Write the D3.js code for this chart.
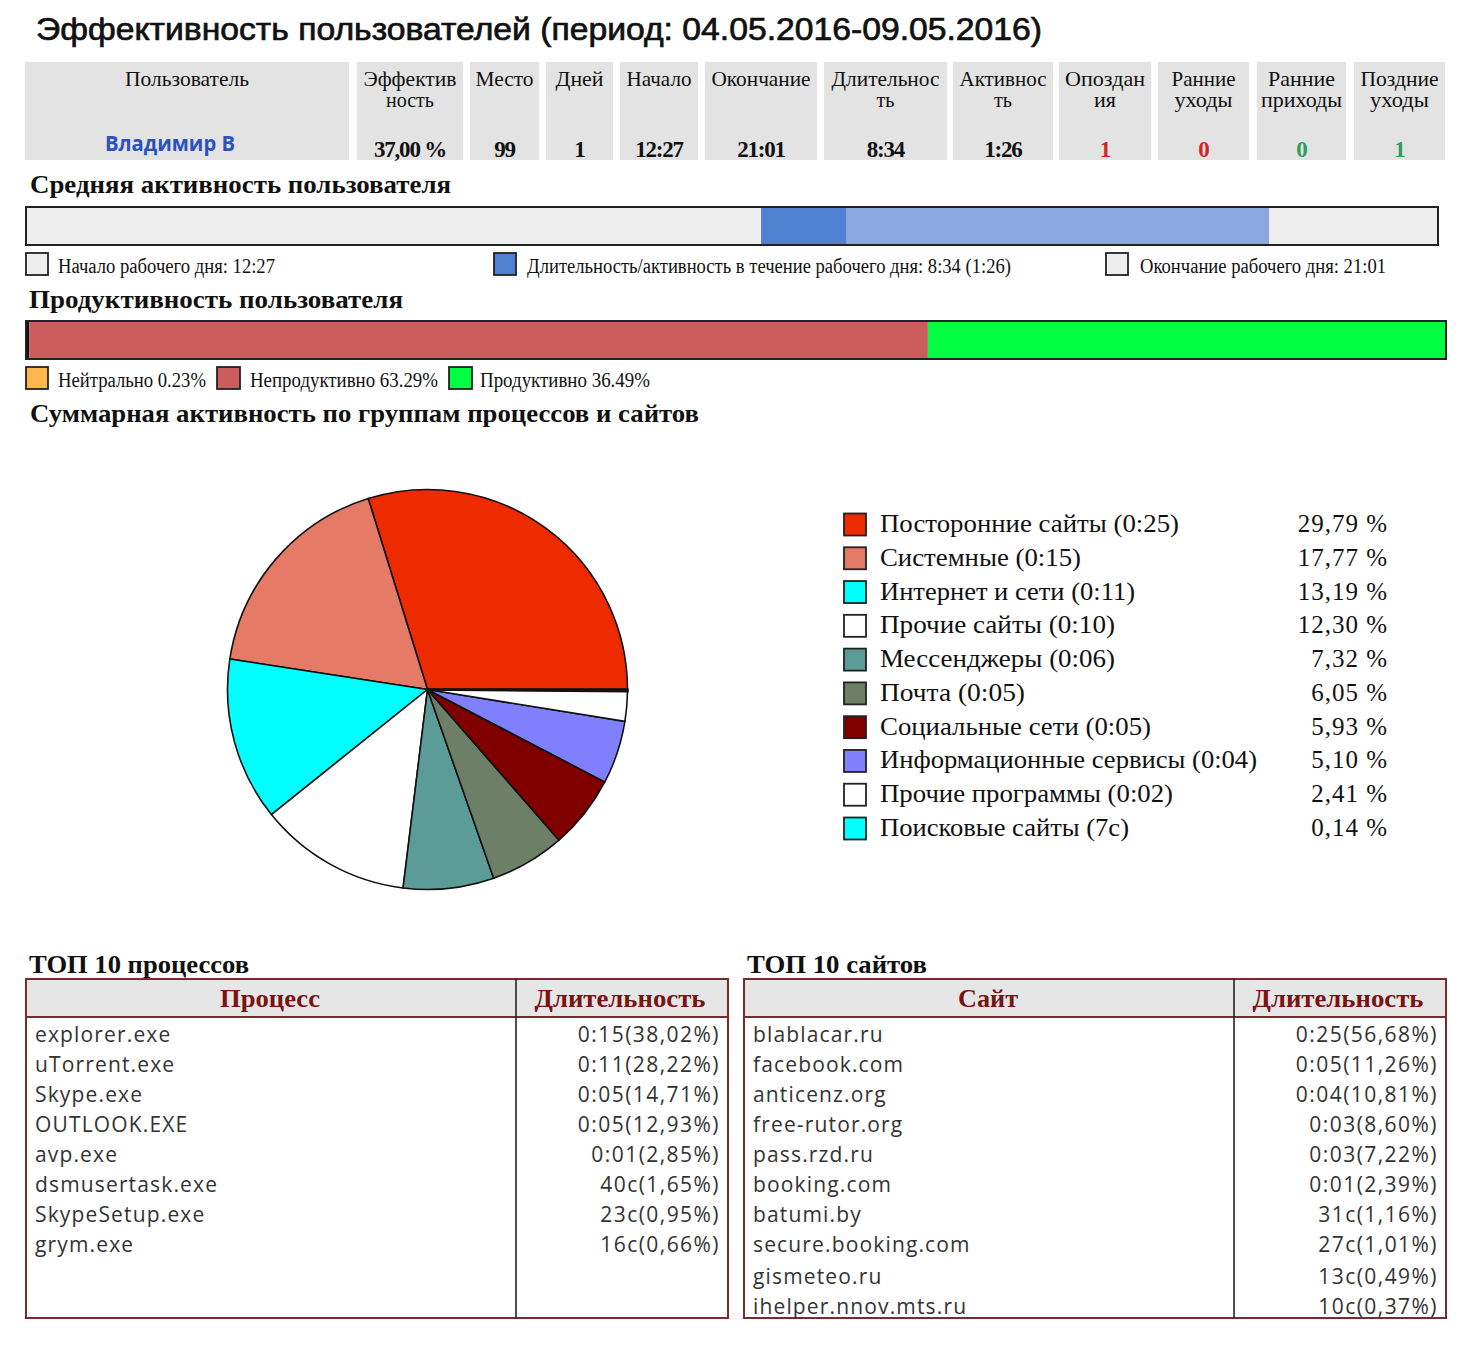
<!DOCTYPE html>
<html>
<head>
<meta charset="utf-8">
<script src="https://d3js.org/d3.v7.min.js"></script>
<style>
  html, body { margin: 0; background: #fff; }
  svg { display: block; }
  .serif { font-family: "Liberation Serif", serif; fill: #111; }
  .sans { font-family: "Open Sans", "Noto Sans", sans-serif; fill: #333; }
</style>
</head>
<body>
<svg id="chart" width="1470" height="1345"></svg>
<script>
// summary table
const summaryHeaders = [["Пользователь"], ["Эффектив", "ность"], ["Место"], ["Дней"], ["Начало"], ["Окончание"],
  ["Длительнос", "ть"], ["Активнос", "ть"], ["Опоздан", "ия"], ["Ранние", "уходы"], ["Ранние", "приходы"], ["Поздние", "уходы"]];
const summaryValues = ["Владимир В", "37,00 %", "99", "1", "12:27", "21:01", "8:34", "1:26", "1", "0", "0", "1"];

// activity bar, minutes since midnight
const dayStart = 747;
const activeMinutes = 86;
const durationMinutes = 514;

// productivity bar
const productivityValues = [0.23, 63.29, 36.49];
const productivityLabels = ["Нейтрально 0.23%", "Непродуктивно 63.29%", "Продуктивно 36.49%"];

// pie
const groupNames = ["Посторонние сайты (0:25)", "Системные (0:15)", "Интернет и сети (0:11)", "Прочие сайты (0:10)",
  "Мессенджеры (0:06)", "Почта (0:05)", "Социальные сети (0:05)", "Информационные сервисы (0:04)",
  "Прочие программы (0:02)", "Поисковые сайты (7с)"];
const groupValues = [29.79, 17.77, 13.19, 12.30, 7.32, 6.05, 5.93, 5.10, 2.41, 0.14];
const groupLabels = ["29,79 %", "17,77 %", "13,19 %", "12,30 %", "7,32 %", "6,05 %", "5,93 %", "5,10 %", "2,41 %", "0,14 %"];

// top 10 tables
const processNames = ["explorer.exe", "uTorrent.exe", "Skype.exe", "OUTLOOK.EXE", "avp.exe", "dsmusertask.exe", "SkypeSetup.exe", "grym.exe"];
const processTimes = ["0:15(38,02%)", "0:11(28,22%)", "0:05(14,71%)", "0:05(12,93%)", "0:01(2,85%)", "40с(1,65%)", "23с(0,95%)", "16с(0,66%)"];
const siteNames = ["blablacar.ru", "facebook.com", "anticenz.org", "free-rutor.org", "pass.rzd.ru", "booking.com", "batumi.by", "secure.booking.com", "gismeteo.ru", "ihelper.nnov.mts.ru"];
const siteTimes = ["0:25(56,68%)", "0:05(11,26%)", "0:04(10,81%)", "0:03(8,60%)", "0:03(7,22%)", "0:01(2,39%)", "31с(1,16%)", "27с(1,01%)", "13с(0,49%)", "10с(0,37%)"];

// colours and layout
const groupColors = ["#ee2a00", "#e57a66", "#00ffff", "#ffffff", "#5c9c98", "#6e7f68", "#800000", "#8080ff", "#ffffff", "#00ffff"];
const productivityColors = ["#ffb74d", "#cd5c5c", "#00ff40"];
const cellEdges = [[25, 349], [357, 463], [470, 539], [546, 613], [620, 698], [705, 817], [824, 947], [953, 1053], [1059, 1151], [1158, 1249], [1257, 1346], [1354, 1445]];
const headerWidths = [[124], [93, 48], [58], [48], [65], [99], [108, 18], [87, 18], [80, 22], [64, 58], [67, 81], [78, 59]];
const valueColors = [null, null, null, null, null, null, null, null, "#d8232a", "#d8232a", "#2e9e5b", "#2e9e5b"];
const legendWidths = [299, 201, 255, 235, 235, 145, 271, 377, 293, 249];
const rowCentres = [1034, 1064, 1094, 1124, 1154, 1184, 1214, 1244, 1276, 1306];

const svg = d3.select("#chart");

function label(parent, text, x, y, cls, size, width, anchor) {
  const t = parent.append("text")
    .attr("class", cls)
    .attr("x", x)
    .attr("y", y)
    .attr("font-size", size)
    .attr("text-anchor", anchor || "start")
    .text(text);
  if (width) t.attr("textLength", width).attr("lengthAdjust", "spacingAndGlyphs");
  return t;
}

function heading(text, x, y, width) {
  return label(svg, text, x, y, "serif", 26, width).attr("font-weight", "bold");
}

// title
label(svg, "Эффективность пользователей (период: 04.05.2016-09.05.2016)", 36, 40, "sans", 31, 1006)
  .style("font-family", "'Liberation Sans', sans-serif")
  .style("fill", "#111")
  .attr("stroke", "#111")
  .attr("stroke-width", 0.7);

/** SUMMARY */
const cells = svg.selectAll("g.cell")
  .data(cellEdges)
  .join("g")
  .attr("class", "cell");

cells.append("rect")
  .attr("x", d => d[0])
  .attr("y", 62)
  .attr("width", d => d[1] - d[0])
  .attr("height", 98)
  .attr("fill", "#e3e3e3");

cells.each(function (d, i) {
  const g = d3.select(this);
  const mid = (d[0] + d[1]) / 2;
  // one text per header, wrapped lines are tspans
  const head = g.append("text")
    .attr("class", "serif")
    .attr("font-size", 22)
    .attr("text-anchor", "middle");
  summaryHeaders[i].forEach((line, j) => {
    head.append("tspan")
      .attr("x", mid)
      .attr("y", 86 + j * 20.5)
      .attr("textLength", headerWidths[i][j])
      .attr("lengthAdjust", "spacingAndGlyphs")
      .text(line);
  });
  if (i === 0) {
    label(g, summaryValues[i], 170, 151, "sans", 21, 130, "middle")
      .attr("font-weight", 700)
      .style("fill", "#2b50c0");
  } else {
    label(g, summaryValues[i], mid, 157, "serif", 23, null, "middle")
      .attr("font-weight", "bold")
      .attr("letter-spacing", -1.2)
      .style("fill", valueColors[i] || "#111");
  }
});

/** ACTIVITY */
heading("Средняя активность пользователя", 30, 193, 421);

const dayScale = d3.scaleLinear().domain([0, 1440]).range([23, 1446]);

svg.append("rect")
  .attr("x", 26).attr("y", 207).attr("width", 1412).attr("height", 38)
  .attr("fill", "#eeeeee");
svg.append("rect")
  .attr("x", dayScale(dayStart)).attr("y", 207)
  .attr("width", dayScale(dayStart + durationMinutes) - dayScale(dayStart)).attr("height", 38)
  .attr("fill", "#88a8df");
svg.append("rect")
  .attr("x", dayScale(dayStart)).attr("y", 207)
  .attr("width", dayScale(dayStart + activeMinutes) - dayScale(dayStart)).attr("height", 38)
  .attr("fill", "#5080d0");
svg.append("rect")
  .attr("x", 26).attr("y", 207).attr("width", 1412).attr("height", 38)
  .attr("fill", "none").attr("stroke", "#222").attr("stroke-width", 2);

function swatch(x, y, fill, w) {
  svg.append("rect")
    .attr("x", x).attr("y", y).attr("width", w || 22).attr("height", 22)
    .attr("fill", fill).attr("stroke", "#222").attr("stroke-width", 1.8);
}

swatch(26, 253, "#eeeeee");
label(svg, "Начало рабочего дня: 12:27", 58, 273, "serif", 20, 217);
swatch(494, 253, "#5080d0");
label(svg, "Длительность/активность в течение рабочего дня: 8:34 (1:26)", 527, 273, "serif", 20, 484);
swatch(1106, 253, "#eeeeee");
label(svg, "Окончание рабочего дня: 21:01", 1140, 273, "serif", 20, 246);

/** PRODUCTIVITY */
heading("Продуктивность пользователя", 29, 308, 374);

const prodScale = d3.scaleLinear().domain([0, d3.sum(productivityValues)]).range([26, 1446]);
const prodStarts = d3.cumsum([0].concat(productivityValues));

svg.selectAll("rect.prod")
  .data(productivityValues)
  .join("rect")
  .attr("class", "prod")
  .attr("x", (d, i) => prodScale(prodStarts[i]))
  .attr("y", 322)
  .attr("width", d => prodScale(d) - prodScale(0))
  .attr("height", 36)
  // the neutral sliver shows only as outline in the original
  .attr("fill", (d, i) => d < 1 ? "#111" : productivityColors[i]);

svg.append("rect")
  .attr("x", 26).attr("y", 321).attr("width", 1420).attr("height", 38)
  .attr("fill", "none").attr("stroke", "#222").attr("stroke-width", 2);

[[26, 58, 148, 22], [217, 250, 188, 23], [449, 480, 170, 23]].forEach((p, i) => {
  swatch(p[0], 367, productivityColors[i], p[3]);
  label(svg, productivityLabels[i], p[1], 387, "serif", 20, p[2]);
});

/** PIE */
heading("Суммарная активность по группам процессов и сайтов", 30, 422, 669);

const pie = d3.pie()
  .sort(null)
  .startAngle(Math.PI / 2)
  .endAngle(Math.PI / 2 - 2 * Math.PI);
const arc = d3.arc().innerRadius(0).outerRadius(200);

svg.append("g")
  .attr("transform", "translate(427.5,689.5)")
  .selectAll("path")
  .data(pie(groupValues))
  .join("path")
  .attr("d", arc)
  .attr("fill", (d, i) => groupColors[i])
  .attr("stroke", "#111")
  .attr("stroke-width", d => d.value < 1 ? 2.4 : 1.6);

const legendY = d3.scalePoint().domain(groupNames).range([524, 828]);

const legendRows = svg.selectAll("g.legend")
  .data(groupNames)
  .join("g")
  .attr("class", "legend");

legendRows.append("rect")
  .attr("x", 844)
  .attr("y", d => legendY(d) - 10.5)
  .attr("width", 22)
  .attr("height", 22)
  .attr("fill", (d, i) => groupColors[i])
  .attr("stroke", "#222")
  .attr("stroke-width", 1.8);

legendRows.append("text")
  .attr("class", "serif")
  .attr("x", 880)
  .attr("y", d => legendY(d) + 8)
  .attr("font-size", 25)
  .attr("textLength", (d, i) => legendWidths[i])
  .attr("lengthAdjust", "spacingAndGlyphs")
  .text(d => d);

legendRows.append("text")
  .attr("class", "serif")
  .attr("x", 1388)
  .attr("y", d => legendY(d) + 8)
  .attr("font-size", 25)
  .attr("letter-spacing", 1)
  .attr("text-anchor", "end")
  .text((d, i) => groupLabels[i]);

/** TOP 10 TABLES */
function topTable(title, titleX, titleWidth, column, left, divider, right, names, times) {
  heading(title, titleX, 973, titleWidth);

  svg.append("rect")
    .attr("x", left).attr("y", 979).attr("width", right - left).attr("height", 38)
    .attr("fill", "#e6e6e6");
  svg.append("rect")
    .attr("x", left).attr("y", 979).attr("width", right - left).attr("height", 339)
    .attr("fill", "none").attr("stroke", "#7a2a2a").attr("stroke-width", 2);
  svg.append("line")
    .attr("x1", left).attr("x2", right).attr("y1", 1017).attr("y2", 1017)
    .attr("stroke", "#7a2a2a").attr("stroke-width", 2);
  svg.append("line")
    .attr("x1", divider).attr("x2", divider).attr("y1", 979).attr("y2", 1318)
    .attr("stroke", "#222").attr("stroke-width", 1.6);

  label(svg, column, (left + divider) / 2 - 1, 1007, "serif", 26, column === "Сайт" ? 60 : 100, "middle")
    .attr("font-weight", "bold").style("fill", "#7a1414");
  label(svg, "Длительность", (divider + right) / 2 - 2, 1007, "serif", 26, 171, "middle")
    .attr("font-weight", "bold").style("fill", "#7a1414");

  names.forEach((n, i) => {
    label(svg, n, left + 9, rowCentres[i] + 8, "sans", 21).attr("letter-spacing", 1.15);
    label(svg, times[i], right - 8, rowCentres[i] + 8, "sans", 21, null, "end").attr("letter-spacing", 1.45);
  });
}

topTable("ТОП 10 процессов", 29, 220, "Процесс", 26, 516, 728, processNames, processTimes);
topTable("ТОП 10 сайтов", 747, 180, "Сайт", 744, 1234, 1446, siteNames, siteTimes);
</script>
</body>
</html>
